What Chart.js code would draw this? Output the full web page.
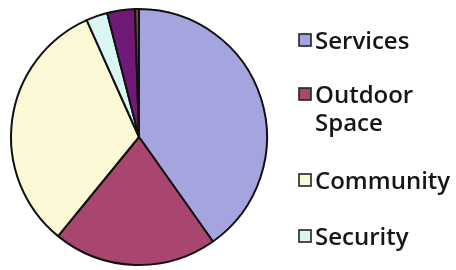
<!DOCTYPE html>
<html>
<head>
<meta charset="utf-8">
<script src="https://cdn.jsdelivr.net/npm/chart.js@4/dist/chart.umd.min.js"></script>
<style>
  html, body { margin: 0; padding: 0; background: #fff; }
  #wrap { position: relative; width: 456px; height: 270px; }
</style>
</head>
<body>
<div id="wrap"><canvas id="pieCanvas" width="456" height="270"></canvas></div>
<script>
const categories = ["Services", "Outdoor Space", "Community", "Security", "Other", "Unknown"];
const shares = [40.2, 20.7, 32.4, 2.7, 3.5, 0.5];
const colors = ["#a4a4de", "#a8466f", "#fbf9d6", "#d9f5f4", "#701a78", "#8b3a2a"];
// only the first four appear in the legend, "Outdoor Space" wraps
const legendLines = [["Services"], ["Outdoor", "Space"], ["Community"], ["Security"]];
const legendTop = [49, 103, 189, 245];

const sideLegend = {
    id: "sideLegend",
    afterDraw(chart) {
        const ctx = chart.ctx;
        ctx.save();
        ctx.font = "600 24px 'Open Sans'";
        ctx.textBaseline = "alphabetic";
        legendLines.forEach((lines, i) => {
            const base = legendTop[i];
            ctx.fillStyle = colors[i];
            ctx.fillRect(299, base - 15, 12, 12);
            ctx.strokeStyle = "#222";
            ctx.lineWidth = 1.6;
            ctx.strokeRect(299, base - 15, 12, 12);
            ctx.fillStyle = "#161616";
            lines.forEach((line, j) => {
                ctx.fillText(line, 315, base + j * 28);
            });
        });
        ctx.restore();
    }
};

new Chart(document.getElementById("pieCanvas"), {
    type: "pie",
    data: {
        labels: categories,
        datasets: [{
            data: shares,
            backgroundColor: colors,
            borderColor: "#111",
            borderWidth: 2
        }]
    },
    options: {
        responsive: false,
        animation: false,
        layout: {
            padding: { left: 10, top: 8, right: 188, bottom: 4 }
        },
        plugins: {
            legend: { display: false },
            tooltip: { enabled: false }
        }
    },
    plugins: [sideLegend]
});
</script>
</body>
</html>
